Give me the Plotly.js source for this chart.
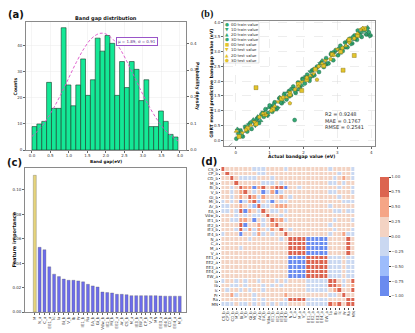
<!DOCTYPE html>
<html>
<head>
<meta charset="utf-8">
<script src="https://cdn.plot.ly/plotly-3.0.1.min.js"></script>
<style>
  html, body { margin: 0; padding: 0; background: #fff; }
  #plot { width: 415px; height: 333px; }
</style>
</head>
<body>
<div id="plot"></div>
<script>
// ---- (a) band gap histogram ----
var binStart = 0.0, binEnd = 3.95;
var counts = [9, 10, 11, 26, 16, 16, 47, 25, 17, 25, 35, 21, 27, 43, 38,
              44, 41, 21, 34, 24, 34, 31, 19, 27, 9, 9, 15, 11, 6, 5];
var fitX = [0.0, 0.2, 0.4, 0.6, 0.8, 1.0, 1.2, 1.4, 1.6, 1.8, 1.9, 2.0, 2.2,
            2.4, 2.6, 2.8, 3.0, 3.2, 3.4, 3.6, 3.8, 3.95];
var fitDensity = [0.051, 0.078, 0.115, 0.161, 0.214, 0.272, 0.329, 0.379, 0.417,
                  0.436, 0.438, 0.435, 0.414, 0.375, 0.323, 0.266, 0.208, 0.156,
                  0.111, 0.075, 0.049, 0.034];

// ---- (b) GBRT predicted vs actual ----
var x0tr = [0.02,0.08,0.15,0.21,0.28,0.34,0.41,0.47,0.55,0.62,0.69,0.76,0.83,0.88,0.95,1.02,1.08,1.15,1.22,1.29,
            1.36,1.43,1.5,1.57,1.63,1.7,1.77,1.84,1.9,1.97,2.04,2.11,2.18,2.25,2.32,2.39,2.46,2.53,2.6,2.67,
            2.74,2.81,2.88,2.95,3.02,3.09,3.16,3.23,3.3,3.37,3.44,3.51,3.58,3.65,3.72,3.79,3.86,3.93,3.98,1.74];
var y0tr = [0.05,0.22,0.31,0.12,0.45,0.29,0.55,0.38,0.62,0.71,0.58,0.88,0.79,1.05,0.92,1.15,0.96,1.28,1.1,1.42,
            1.25,1.55,1.38,1.66,1.52,1.82,1.6,1.95,1.78,2.08,1.92,2.22,2.01,2.36,2.2,2.45,2.31,2.62,2.48,2.78,
            2.6,2.92,2.71,3.05,2.88,3.2,3.02,3.31,3.15,3.44,3.28,3.55,3.4,3.62,3.5,3.72,3.58,3.66,3.55,0.68];
var x1tr = [0.12,0.38,0.58,0.81,1.05,1.25,1.46,1.68,1.88,2.07,2.28,2.49,2.7,2.9,3.12,3.33,3.55,3.76,3.95,0.95,1.6,2.2,2.85,3.4];
var y1tr = [0.35,0.52,0.49,0.95,1.12,1.08,1.6,1.75,1.82,2.15,2.2,2.6,2.62,2.95,3.05,3.38,3.46,3.78,3.52,0.82,1.48,2.32,2.98,3.25];
var x2tr = [0.05,0.3,0.52,0.74,0.97,1.18,1.4,1.61,1.82,2.03,2.24,2.45,2.66,2.87,3.08,3.29,3.5,3.71,3.9,0.65,1.3,1.95,2.55,3.2,3.85];
var y2tr = [0.38,0.41,0.7,0.66,1.1,1.02,1.3,1.72,1.7,2.12,2.15,2.52,2.55,2.98,2.95,3.35,3.41,3.65,3.82,0.8,1.45,1.85,2.7,3.12,3.6];
var x3tr = [0.18,0.44,0.66,0.9,1.12,1.33,1.55,1.76,1.98,2.19,2.4,2.62,2.83,3.04,3.25,3.46,3.68,3.88,1.0,2.3,3.6];
var y3tr = [0.15,0.6,0.75,0.85,1.2,1.28,1.5,1.65,2.05,2.1,2.5,2.55,2.9,3.1,3.18,3.5,3.55,3.75,1.18,2.4,3.72];
var x0te = [0.1,0.35,0.6,0.85,1.1,1.35,1.6,1.85,2.1,2.35,2.6,2.85,3.1,3.35,3.6,3.8,0.6,3.17,3.5,1.95];
var y0te = [0.12,0.4,0.55,0.88,1.05,1.4,1.55,1.9,2.05,2.4,2.52,2.9,3.0,3.4,3.55,3.78,1.78,2.37,2.87,1.68];
var x1te = [0.2,0.55,0.9,1.25,1.6,1.95,2.3,2.65,3.0,3.35,3.7];
var y1te = [0.25,0.62,0.85,1.3,1.62,1.98,2.25,2.7,3.08,3.3,3.75];
var x2te = [0.02,0.45,0.8,1.15,1.5,1.85,2.2,2.55,2.9,3.25,3.6,3.75];
var y2te = [0.3,0.5,0.9,1.15,1.45,1.82,2.18,2.6,2.88,3.2,3.62,3.8];
var x3te = [0.3,0.7,1.05,1.4,1.75,2.1,2.45,2.8,3.15,3.5,1.6,2.4];
var y3te = [0.35,0.78,1.0,1.45,1.72,2.12,2.5,2.75,3.12,3.45,1.25,2.05];
var idealLine = [-0.3, 4.1];
var seriesNames = ['0D train value','1D train value','2D train value','3D train value',
                   '0D test value','1D test value','2D test value','3D test value'];
var metrics = ['R2 = 0.9248', 'MAE = 0.1767', 'RMSE = 0.2541'];

// ---- (c) feature importance ----
var featNames = ['M','N_a','C_a','EE1_a','lc','la','Bi_b','V_b','lb','Pr','IE1_b','Ra','EA_b','Gi_b','Vdw_b',
                 'IE2_b','Mi_b','EE2_a','Ar_b','CS_b','M_a','IE3_b','EW_a','CP_b','V_a','MN','EE3_a','IE4_b',
                 'CD_b','EE4_a','M_b'];
var importance = [0.112, 0.053, 0.051, 0.037, 0.031, 0.029, 0.027, 0.026, 0.026, 0.0255, 0.0247, 0.0227,
                  0.0214, 0.0205, 0.0164, 0.0159, 0.0156, 0.0145, 0.0145, 0.0142, 0.0134, 0.0134, 0.0134,
                  0.0134, 0.0134, 0.0134, 0.0132, 0.013, 0.013, 0.013, 0.013];

// ---- (d) correlation matrix (lower triangle, level codes 0..5) ----
var corrNames = ['CS_b','CP_b','CD_b','M_b','Bi_b','V_b','Gi_b','Mi_b','Ar_b','EA_b','Vdw_b','IE1_b','IE2_b',
                 'IE3_b','IE4_b','N_a','C_a','M_a','V_a','EE1_a','EE2_a','EE3_a','EE4_a','EW_a','la','lb',
                 'lc','Pr','Ra','MN'];
var levelValues = [-0.85, -0.5, -0.15, 0.15, 0.5, 0.85];
var corrRows = [
  '5',
  '35',
  '335',
  '3335',
  '33235',
  '332345',
  '3323435',
  '23230245',
  '223343215',
  '2232504325',
  '33323232235',
  '332244303235',
  '3333503342345',
  '33325242432435',
  '233303324232335',
  '3333332333333235',
  '33333333333333355',
  '333323333333333555',
  '3333333333333335555',
  '33333333333333300005',
  '333333333333333000055',
  '3333333333333330000555',
  '33333333333333300005555',
  '333333333333333000055555',
  '2332323323332323333222225',
  '33223233323232333332222255',
  '323323233233333333322222345',
  '3342333233333343333333332235',
  '33333332323333255552222233335',
  '222322323232322333322222545355'
];

var W = 415, H = 333;
function px(x) { return x / W; }
function py(y) { return 1 - y / H; }
var FONT = 'DejaVu Sans';

var binW = (binEnd - binStart) / counts.length;
var binCenters = counts.map(function (c, i) { return binStart + binW * (i + 0.5); });

var n = corrNames.length;
var z = [];
for (var i = 0; i < n; i++) {
  z.push([]);
  for (var j = 0; j < n; j++) {
    var r = Math.max(i, j), c = Math.min(i, j);
    z[i].push(levelValues[+corrRows[r][c]]);
  }
}
var idx = corrNames.map(function (d, i) { return i; });

var green = '#33a873', yellow = '#e3c42c';
var symbols = ['circle', 'triangle-down', 'triangle-up', 'hexagon', 'square', 'triangle-down', 'triangle-up', 'pentagon'];
var xs = [x0tr, x1tr, x2tr, x3tr, x0te, x1te, x2te, x3te];
var ys = [y0tr, y1tr, y2tr, y3tr, y0te, y1te, y2te, y3te];

var data = [
  { type: 'bar', x: binCenters, y: counts, width: binW, xaxis: 'x', yaxis: 'y',
    marker: { color: '#14e896', line: { color: '#1a3a2a', width: 0.6 } }, showlegend: false },
  { type: 'scatter', mode: 'lines', x: fitX, y: fitDensity, xaxis: 'x', yaxis: 'y2',
    line: { color: '#dc4fc8', width: 0.9, dash: '3px,2px', shape: 'spline' }, showlegend: false },
  { type: 'scatter', mode: 'lines', x: idealLine, y: idealLine, xaxis: 'x2', yaxis: 'y3',
    line: { color: '#999', width: 0.8, dash: 'dash' }, showlegend: false }
];
for (var k = 0; k < 8; k++) {
  data.push({ type: 'scatter', mode: 'markers', x: xs[k], y: ys[k], xaxis: 'x2', yaxis: 'y3',
    name: seriesNames[k], showlegend: false,
    marker: { symbol: symbols[k], size: 4, color: k < 4 ? green : yellow,
              line: { color: k < 4 ? '#1d5e40' : '#7a6a10', width: 0.4 } } });
}
data.push({ type: 'bar', x: idx.concat([30]), y: importance, xaxis: 'x3', yaxis: 'y4', width: 0.62,
  marker: { color: importance.map(function (v, i) { return i === 0 ? '#e6d47c' : '#6c6cec'; }),
            line: { color: '#555', width: 0.3 } }, showlegend: false });
data.push({ type: 'heatmap', z: z, x: idx, y: idx, xaxis: 'x4', yaxis: 'y5', xgap: 1, ygap: 1,
  zmin: -1, zmax: 1,
  colorscale: [[0, '#6a8bef'], [1/6, '#6a8bef'], [1/6, '#9dbcfb'], [2/6, '#9dbcfb'],
               [2/6, '#cad8f1'], [3/6, '#cad8f1'], [3/6, '#f3d3c3'], [4/6, '#f3d3c3'],
               [4/6, '#f5a586'], [5/6, '#f5a586'], [5/6, '#dc6450'], [1, '#dc6450']],
  colorbar: { x: px(383), xanchor: 'left', y: py(236.5), yanchor: 'middle', len: 139 / H,
              thickness: 9, outlinewidth: 0, tickfont: { size: 4, family: FONT },
              tickvals: [-1, -0.75, -0.5, -0.25, 0, 0.25, 0.5, 0.75, 1],
              ticktext: ['\u22121.00', '\u22120.75', '\u22120.50', '\u22120.25', '0.00', '0.25', '0.50', '0.75', '1.00'],
              ticks: 'outside', ticklen: 2 },
  showscale: true });

var baseAx = { showline: true, mirror: true, linecolor: '#8a8a8a', linewidth: 1, ticks: 'outside',
  ticklen: 2, tickcolor: '#666', tickfont: { size: 4, family: FONT, color: '#333' },
  zeroline: false, showgrid: true, gridcolor: '#ececec', gridwidth: 0.5 };
function ax(o) { return Object.assign({}, baseAx, o); }

var ann = [];
function label(t, x, y, o) {
  ann.push(Object.assign({ text: t, x: px(x), y: py(y), xref: 'paper', yref: 'paper', showarrow: false,
    xanchor: 'center', yanchor: 'middle', borderpad: 0,
    font: { size: 5, family: FONT, color: '#111' } }, o || {}));
}
label('<b>(a)</b>', 7, 14, { xanchor: 'left', font: { size: 10, family: FONT, color: '#111' } });
label('<b>(b)</b>', 207, 14, { xanchor: 'left', font: { size: 10, family: 'Liberation Serif', color: '#111' } });
label('<b>(c)</b>', 6, 162, { xanchor: 'left', font: { size: 10, family: FONT, color: '#111' } });
label('<b>(d)</b>', 207, 161, { xanchor: 'left', font: { size: 10, family: FONT, color: '#111' } });
label('<b>Band gap distribution</b>', 110, 18);
label('<b>Band gap(eV)</b>', 110, 161, { font: { size: 4.2, family: FONT, color: '#111' } });
label('<b>Counts</b>', 17, 86, { textangle: -90, font: { size: 4.5, family: FONT, color: '#111' } });
label('<b>Probability density</b>', 204, 86, { textangle: 90, font: { size: 4.5, family: FONT, color: '#111' } });
label('<span style="color:#5a2a8a">\u03bc = 1.89, \u03c3 = 0.91</span>', 142, 41,
  { bordercolor: '#9a55c8', borderwidth: 1, borderpad: 1, bgcolor: '#fff', font: { size: 4, family: FONT } });
label('<b>GBRT model predictive bandgap value (eV)</b>', 218, 83, { textangle: -90, font: { size: 4.5, family: FONT, color: '#111' } });
label('<b>Actual bandgap value (eV)</b>', 312, 156.5, { font: { size: 4.5, family: FONT, color: '#111' } });
label(metrics.join('<br>'), 335, 110, { xanchor: 'left', yanchor: 'top', align: 'left',
  font: { size: 5, family: FONT, color: '#333' } });
label('<b>Feature importance</b>', 14, 240, { textangle: -90, font: { size: 5, family: FONT, color: '#111' } });

// legend of (b), drawn by hand so it can stay as small as the original
var legSym = ['\u25cf', '\u25bc', '\u25b2', '\u2b22', '\u25a0', '\u25bc', '\u25b2', '\u2b1f'];
for (var k = 0; k < 8; k++) {
  var yy = 24.5 + k * 5.1;
  label(legSym[k], 235, yy, { font: { size: 4.5, family: FONT, color: k < 4 ? green : yellow } });
  label(seriesNames[k], 238.5, yy, { xanchor: 'left', font: { size: 3.8, family: FONT, color: '#222' } });
}

var layout = {
  width: W, height: H, margin: { l: 0, r: 0, t: 0, b: 0 },
  paper_bgcolor: '#fff', plot_bgcolor: '#fff', showlegend: false, bargap: 0,
  font: { family: FONT },
  xaxis: ax({ domain: [px(27), px(193)], range: [-0.16, 4.18], anchor: 'y', ticklen: 1.5,
              tickvals: [0, 0.5, 1, 1.5, 2, 2.5, 3, 3.5, 4],
              ticktext: ['0.0', '0.5', '1.0', '1.5', '2.0', '2.5', '3.0', '3.5', '4.0'] }),
  yaxis: ax({ domain: [py(150), py(22)], range: [0, 49.2], anchor: 'x', tickvals: [0, 10, 20, 30, 40] }),
  yaxis2: ax({ overlaying: 'y', side: 'right', anchor: 'x', range: [0, 0.48], showgrid: false,
               tickvals: [0, 0.1, 0.2, 0.3, 0.4], ticktext: ['0.0', '0.1', '0.2', '0.3', '0.4'] }),
  xaxis2: ax({ domain: [px(232), px(388)], range: [-0.34, 4.11], anchor: 'y3', tickvals: [0, 1, 2, 3, 4],
               griddash: 'dash', gridcolor: '#dcdcdc' }),
  yaxis3: ax({ domain: [py(146), py(21)], range: [-0.2, 4.04], anchor: 'x2',
               tickvals: [0, 0.5, 1, 1.5, 2, 2.5, 3, 3.5, 4],
               ticktext: ['0.0', '0.5', '1.0', '1.5', '2.0', '2.5', '3.0', '3.5', '4.0'],
               griddash: 'dash', gridcolor: '#dcdcdc' }),
  xaxis3: ax({ domain: [px(26), px(192)], range: [-2, 31.2], anchor: 'y4', showgrid: false,
               tickvals: idx.concat([30]), ticktext: featNames, tickangle: -90 }),
  yaxis4: ax({ domain: [py(312), py(168)], range: [0, 0.118], anchor: 'x3', showgrid: false,
               tickvals: [0, 0.02, 0.04, 0.06, 0.08, 0.1],
               ticktext: ['0.00', '0.02', '0.04', '0.06', '0.08', '0.10'] }),
  xaxis4: { domain: [px(229), px(368)], range: [-0.5, 29.5], anchor: 'y5', tickvals: idx, ticktext: corrNames,
            tickangle: -90, tickfont: { size: 4, family: FONT, color: '#333' }, showgrid: false, zeroline: false,
            ticks: 'outside', ticklen: 1.5, showline: false },
  yaxis5: { domain: [py(307), py(167)], range: [29.5, -0.5], anchor: 'x4', tickvals: idx, ticktext: corrNames,
            tickfont: { size: 4, family: FONT, color: '#333' }, showgrid: false, zeroline: false,
            ticks: 'outside', ticklen: 1.5, showline: false },
  shapes: [
    { type: 'rect', xref: 'paper', yref: 'paper', x0: px(231.5), x1: px(268), y0: py(63), y1: py(21.5),
      fillcolor: 'rgba(255,255,255,0.85)', line: { color: '#d0d0d0', width: 0.6 }, layer: 'above' }
  ],
  annotations: ann
};

Plotly.newPlot('plot', data, layout, { staticPlot: true });
</script>
</body>
</html>
